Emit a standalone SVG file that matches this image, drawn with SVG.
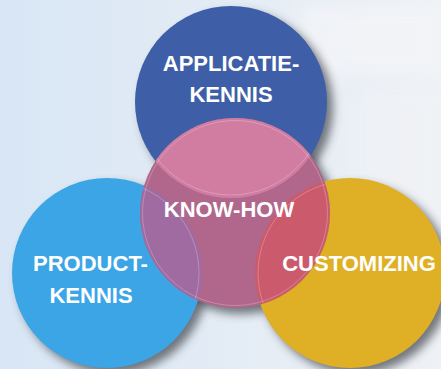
<svg xmlns="http://www.w3.org/2000/svg" width="441" height="369" viewBox="0 0 441 369">
  <defs>
    <linearGradient id="bg" x1="0" y1="0" x2="1" y2="0">
      <stop offset="0" stop-color="#d8e6f5"/>
      <stop offset="0.45" stop-color="#e2ebf5"/>
      <stop offset="1" stop-color="#eef1f5"/>
    </linearGradient>
    <filter id="blur" x="-30%" y="-30%" width="160%" height="160%">
      <feGaussianBlur stdDeviation="5"/>
    </filter>
    <filter id="soft" x="-50%" y="-50%" width="200%" height="200%">
      <feGaussianBlur stdDeviation="8"/>
    </filter>
    <clipPath id="clipPink"><circle cx="235" cy="213" r="95"/></clipPath>
    <clipPath id="clipBlue"><circle cx="231" cy="102" r="96"/></clipPath>
    <clipPath id="clipLight"><circle cx="107" cy="273" r="95"/></clipPath>
    <clipPath id="clipOrange"><circle cx="350" cy="273" r="95"/></clipPath>
    <mask id="notPink" maskUnits="userSpaceOnUse" x="0" y="0" width="441" height="369">
      <rect x="0" y="0" width="441" height="369" fill="#fff"/>
      <circle cx="235" cy="213" r="95" fill="#000"/>
    </mask>
    <style>
      .lbl { font-family: "Liberation Sans", Arial, Helvetica, sans-serif; font-weight: bold; font-size: 22px; fill: #ffffff; text-anchor: middle; }
      .shadow { fill: #4a4d52; opacity: 0.75; filter: url(#blur); }
      .ring { fill: none; stroke: #ffffff; stroke-opacity: 0.3; stroke-width: 0.8; }
    </style>
  </defs>

  <!-- background -->
  <rect x="0" y="0" width="441" height="369" fill="url(#bg)"/>
  <rect x="300" y="5" width="141" height="70" fill="#f4f5f8" opacity="0.7" filter="url(#soft)"/>
  <rect x="360" y="90" width="81" height="120" fill="#f1f3f6" opacity="0.6" filter="url(#soft)"/>

  <!-- shadows -->
  <g id="shadows">
    <circle class="shadow" cx="237" cy="108" r="96"/>
    <circle class="shadow" cx="113" cy="279" r="95"/>
    <circle class="shadow" cx="241" cy="219" r="95"/>
    <circle class="shadow" cx="356" cy="279" r="95"/>
  </g>

  <g id="connectors"/>

  <g id="node-applicatie">
    <circle cx="231" cy="102" r="96" fill="#3e5fa8"/>
    <text class="lbl" x="231" y="70.5">APPLICATIE-</text>
    <text class="lbl" x="231" y="102">KENNIS</text>
  </g>

  <g id="node-product">
    <circle cx="107" cy="273" r="95" fill="#3ca5e6"/>
    <text class="lbl" x="90.5" y="271">PRODUCT-</text>
    <text class="lbl" x="91" y="303">KENNIS</text>
  </g>

  <g id="node-knowhow">
    <circle cx="235" cy="213" r="95" fill="#b0678b"/>
    <g clip-path="url(#clipPink)">
      <circle cx="231" cy="102" r="96" fill="#d17ca1"/>
      <circle cx="107" cy="273" r="95" fill="#a06ba0"/>
      <circle cx="350" cy="273" r="95" fill="#cc5a6d"/>
      <circle class="ring" cx="231" cy="102" r="93"/>
      <circle class="ring" cx="107" cy="273" r="92"/>
      <circle class="ring" cx="350" cy="273" r="92" stroke="#f0a080"/>
      <circle class="ring" cx="235" cy="213" r="92.5"/>
    </g>
    <text class="lbl" x="229" y="217">KNOW-HOW</text>
  </g>

  <g id="node-customizing">
    <circle cx="350" cy="273" r="95" fill="#dfb025" mask="url(#notPink)"/>
    <text class="lbl" x="359" y="271">CUSTOMIZING</text>
  </g>
</svg>
